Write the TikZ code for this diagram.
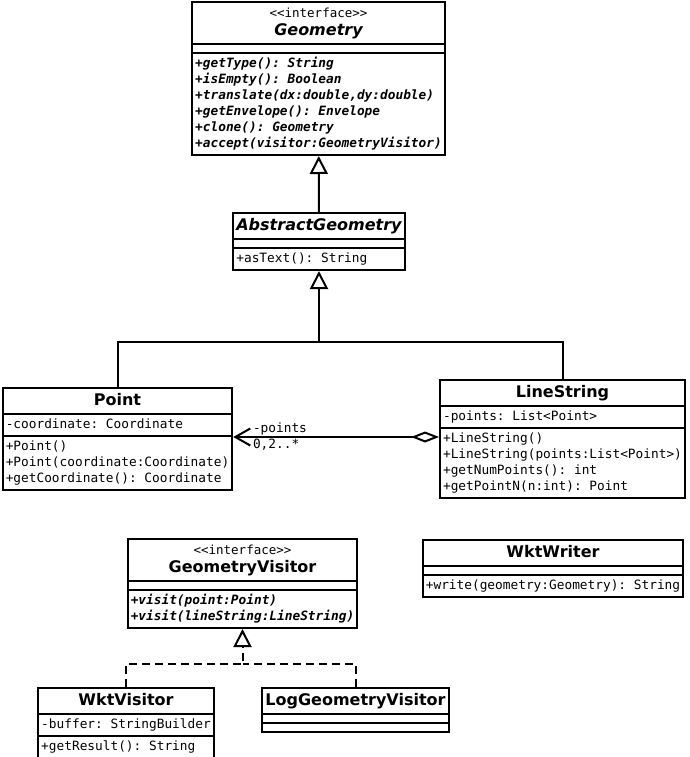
\documentclass[tikz,border=0pt]{standalone}
\usepackage{fontspec}
\setmainfont{DejaVu Sans}
\setsansfont{DejaVu Sans}
\setmonofont{DejaVu Sans Mono}
\usepackage{tikz}
\usetikzlibrary{shapes.multipart}
\usetikzlibrary{arrows.meta}
\newcommand{\ctitle}[1]{{\fontsize{16}{20}\selectfont\bfseries\strut#1}}
\newcommand{\ititle}[1]{{\fontsize{16}{18}\selectfont\begin{tabular}{@{}c@{}}{\ttfamily\fontsize{12.5}{18}\selectfont<{}<interface>{}>}\\\bfseries#1\end{tabular}}}
\newcommand{\members}[1]{{\fontsize{12.8}{16}\selectfont\ttfamily\begin{tabular}{@{}l@{}}#1\end{tabular}}}
\newcommand{\imembers}[1]{{\fontsize{12.8}{16}\selectfont\ttfamily\bfseries\itshape\begin{tabular}{@{}l@{}}#1\end{tabular}}}
\newcommand{\nomembers}{\phantom{\rule{1pt}{3pt}}}

\begin{document}
\begin{tikzpicture}[x=1pt,y=-1pt,line width=2pt,
    class/.style={rectangle split,rectangle split parts=3,draw,line width=2pt,anchor=north,inner xsep=3pt,inner ysep=2pt,
      rectangle split part align={center,left,left}},
    gen/.style={-{Triangle[open,length=18pt,width=18pt]}},
    impl/.style={dash pattern=on 8pt off 5pt},
    aggr/.style={{Diamond[open,length=28pt,width=11pt]}-{Straight Barb[length=15pt,width=17pt]}},
    role/.style={font=\fontsize{12.8}{16}\selectfont\ttfamily,inner sep=0pt,anchor=west}]
  \useasboundingbox (0,0) rectangle (689,757);

  \begin{scope}

    \node[class] (geometry) at (318.5,1) {\ititle{\itshape Geometry}\nodepart{two}\nomembers\nodepart{three}\imembers{+getType(): String\\+isEmpty(): Boolean\\+translate(dx:double,dy:double)\\+getEnvelope(): Envelope\\+clone(): Geometry\\+accept(visitor:GeometryVisitor)}};
    \node[class] (abstract) at (319,212) {\ctitle{\itshape AbstractGeometry}\nodepart{two}\nomembers\nodepart{three}\members{+asText(): String}};
    \node[class] (point) at (117.5,387) {\ctitle{Point}\nodepart{two}\members{-coordinate: Coordinate}\nodepart{three}\members{+Point()\\+Point(coordinate:Coordinate)\\+getCoordinate(): Coordinate}};
    \node[class] (linestring) at (562.5,379) {\ctitle{LineString}\nodepart{two}\members{-points: List<Point>}\nodepart{three}\members{+LineString()\\+LineString(points:List<Point>)\\+getNumPoints(): int\\+getPointN(n:int): Point}};

    \node[class] (visitor) at (242.5,538) {\ititle{GeometryVisitor}\nodepart{two}\nomembers\nodepart{three}\imembers{+visit(point:Point)\\+visit(lineString:LineString)}};
    \node[class] (wktwriter) at (553,539) {\ctitle{WktWriter}\nodepart{two}\nomembers\nodepart{three}\members{+write(geometry:Geometry): String}};
    \node[class] (wktvisitor) at (126,687) {\ctitle{WktVisitor}\nodepart{two}\members{-buffer: StringBuilder}\nodepart{three}\members{+getResult(): String}};
    \node[class] (logvisitor) at (355.5,687) {\ctitle{LogGeometryVisitor}\nodepart{two}\nomembers\nodepart{three}\nomembers};

    \coordinate (genjoin) at (abstract.south |- 0,342);
    \coordinate (impljoin) at (visitor.south |- 0,664);

    \path[gen] (abstract) edge (geometry);
    \draw[gen] (point.north) |- (genjoin) -- (abstract.south);
    \draw (linestring.north) |- (genjoin);

    \draw[aggr] (linestring.west |- 0,437) -- (point.east |- 0,437);
    \node[role] (rolename) at (252,429) {-points};
    \node[role] (rolemult) at (252,445) {0,2..*};

    \draw[gen,impl] (wktvisitor.north) |- (impljoin) -- (visitor.south);
    \draw[impl] (logvisitor.north) |- (impljoin);

  \end{scope}
\end{tikzpicture}
\end{document}
